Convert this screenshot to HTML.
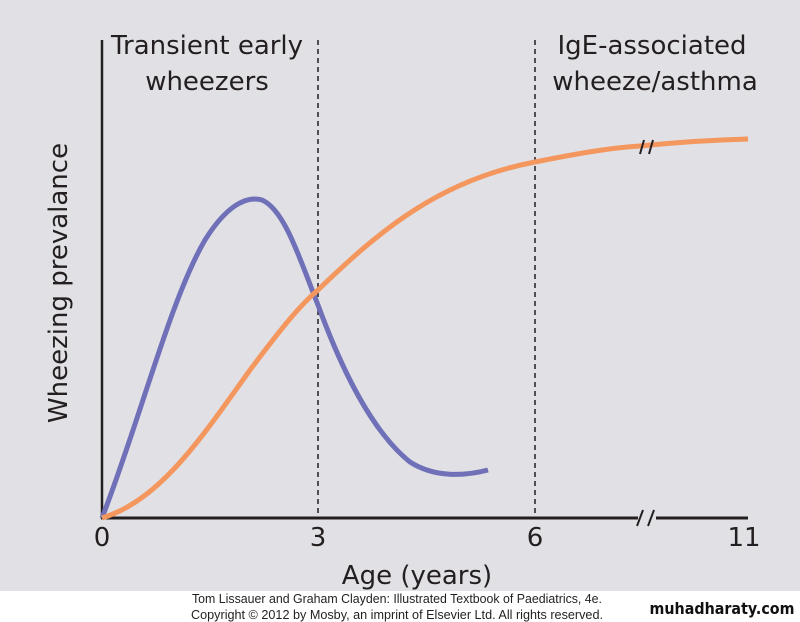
<!DOCTYPE html>
<html><head><style>
body{margin:0;width:800px;height:622px;overflow:hidden;background:#fff}
svg{display:block}
</style></head><body>
<svg width="800" height="622" xmlns="http://www.w3.org/2000/svg" font-family="'DejaVu Sans','Liberation Sans',sans-serif">
<rect x="0" y="0" width="800" height="591" fill="#e1e0e5"/>
<line x1="102" y1="40" x2="102" y2="519" stroke="#231f20" stroke-width="2.5"/>
<line x1="101" y1="518" x2="748" y2="518" stroke="#231f20" stroke-width="3"/>
<line x1="318" y1="40" x2="318" y2="516" stroke="#231f20" stroke-width="1.5" stroke-dasharray="5,4"/>
<line x1="535" y1="40" x2="535" y2="516" stroke="#231f20" stroke-width="1.5" stroke-dasharray="5,4"/>
<rect x="638" y="512" width="18" height="12" fill="#e1e0e5"/>
<line x1="637" y1="526" x2="643" y2="510" stroke="#231f20" stroke-width="2"/>
<line x1="648" y1="526" x2="654" y2="510" stroke="#231f20" stroke-width="2"/>
<path d="M102,518 C140,420 170,300 205,240 C225,208 245,195 262,200 C285,210 300,260 318,305 C340,365 370,430 410,462 C435,478 465,476 488,470" fill="none" stroke="#6f70b8" stroke-width="5"/>
<path d="M102,518 C160,500 200,440 250,370 C280,330 300,305 318,290 C380,230 440,180 535,162 C580,153 610,148 640,146 C680,142 710,140 748,139" fill="none" stroke="#f4975e" stroke-width="5"/>
<line x1="640" y1="154" x2="644" y2="140" stroke="#231f20" stroke-width="2"/>
<line x1="649" y1="154" x2="653" y2="140" stroke="#231f20" stroke-width="2"/>
<g fill="#231f20" font-size="26">
<text x="207" y="54" text-anchor="middle">Transient early</text>
<text x="207" y="90" text-anchor="middle">wheezers</text>
<text x="652" y="54" text-anchor="middle">IgE-associated</text>
<text x="655" y="90" text-anchor="middle">wheeze/asthma</text>
<text x="102" y="546" text-anchor="middle">0</text>
<text x="318" y="546" text-anchor="middle">3</text>
<text x="535" y="546" text-anchor="middle">6</text>
<text x="744" y="546" text-anchor="middle">11</text>
<text x="417" y="584" text-anchor="middle">Age (years)</text>
<text transform="translate(67,283) rotate(-90)" text-anchor="middle">Wheezing prevalance</text>
</g>
<g fill="#231f20" font-family="'Liberation Sans Narrow','Liberation Sans',sans-serif" font-size="12.5">
<text x="397" y="603" text-anchor="middle" textLength="410" lengthAdjust="spacingAndGlyphs">Tom Lissauer and Graham Clayden: Illustrated Textbook of Paediatrics, 4e.</text>
<text x="397" y="619" text-anchor="middle" textLength="412" lengthAdjust="spacingAndGlyphs">Copyright © 2012 by Mosby, an imprint of Elsevier Ltd. All rights reserved.</text>
</g>
<text x="722" y="614" text-anchor="middle" font-family="'DejaVu Sans',sans-serif" font-weight="bold" font-size="16" fill="#111" textLength="145" lengthAdjust="spacingAndGlyphs">muhadharaty.com</text>
</svg>
</body></html>
